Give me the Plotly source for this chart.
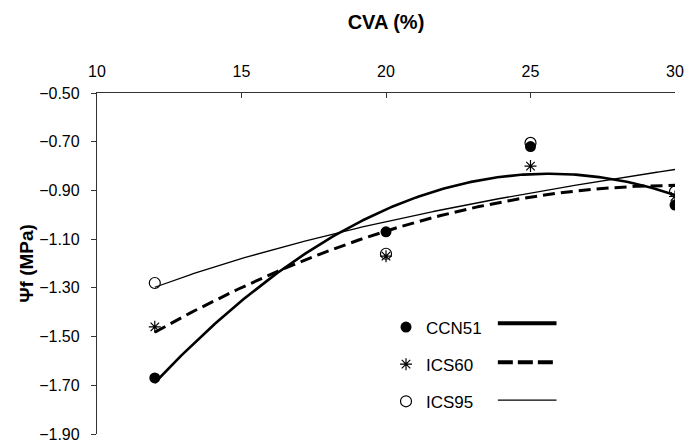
import numpy as np
import plotly.graph_objects as go

cva = [12, 20, 25, 30]
ccn51 = [-1.67, -1.07, -0.72, -0.96]
ics60 = [-1.46, -1.17, -0.80, -0.925]
ics95 = [-1.28, -1.16, -0.705, -0.905]
x_ticks = [10, 15, 20, 25, 30]
y_ticks = [-0.5, -0.7, -0.9, -1.1, -1.3, -1.5, -1.7, -1.9]

xs = np.linspace(min(cva), max(cva), 200)
fit_ccn = np.polyval(np.polyfit(cva, ccn51, 2), xs)
fit_60 = np.polyval(np.polyfit(cva, ics60, 2), xs)
lc = np.polyfit(np.log(cva), ics95, 1)
fit_95 = np.polyval(lc, np.log(xs))

FONT = "Liberation Sans, Arial, sans-serif"

fig = go.Figure()
fig.add_trace(go.Scatter(x=xs, y=fit_ccn, mode="lines", line=dict(color="black", width=2.6), showlegend=False))
fig.add_trace(go.Scatter(x=xs, y=fit_60, mode="lines", line=dict(color="black", width=3, dash="12px,6px"), showlegend=False))
fig.add_trace(go.Scatter(x=xs, y=fit_95, mode="lines", line=dict(color="black", width=1.3), showlegend=False))

fig.add_trace(go.Scatter(x=cva, y=ccn51, mode="markers", name="CCN51", legendgroup="a",
                         marker=dict(symbol="circle", size=11, color="black")))
fig.add_trace(go.Scatter(x=cva, y=ics60, mode="markers", name="ICS60", legendgroup="b",
                         marker=dict(symbol="asterisk-open", size=10, color="black", line=dict(width=1.2, color="black"))))
fig.add_trace(go.Scatter(x=cva, y=ics95, mode="markers", name="ICS95", legendgroup="c",
                         marker=dict(symbol="circle-open", size=11, color="black", line=dict(width=1.2, color="black"))))

# legend line samples (paper coordinates)
for yy, dash, w in [(0.3246, "solid", 4), (0.2105, "15px,5px", 4), (0.0994, "solid", 1.3)]:
    fig.add_shape(type="line", xref="paper", yref="paper", x0=0.6935, x1=0.795, y0=yy, y1=yy,
                  line=dict(color="black", width=w, dash=dash))

fig.update_layout(
    width=684, height=442,
    margin=dict(l=96.5, r=8.5, t=93, b=8, autoexpand=False),
    paper_bgcolor="white", plot_bgcolor="white",
    font=dict(family=FONT, size=16, color="black"),
    showlegend=True,
    legend=dict(x=0.5, y=0.365, xanchor="left", yanchor="top", bgcolor="rgba(0,0,0,0)",
                tracegroupgap=12, font=dict(size=17), itemwidth=30),
    xaxis=dict(side="top", range=[10, 30], tickvals=x_ticks, ticks="inside", ticklen=5,
               tickcolor="#333", ticklabeloverflow="allow", ticklabelstandoff=8, automargin=False,
               showline=True, linecolor="#333", linewidth=1.3, showgrid=False, zeroline=False,
               title=dict(text="<b>CVA (%)</b>", font=dict(size=20), standoff=28)),
    yaxis=dict(range=[-1.9, -0.5], tickvals=y_ticks, tickformat=".2f", ticks="outside", ticklen=5,
               tickcolor="#333", ticklabeloverflow="allow", ticklabelstandoff=8, automargin=False,
               showline=True, linecolor="#333", linewidth=1.3, showgrid=False, zeroline=False,
               title=dict(text="<b>Ψf (MPa)</b>", font=dict(size=19), standoff=0)),
)
fig.write_html("out.html")
